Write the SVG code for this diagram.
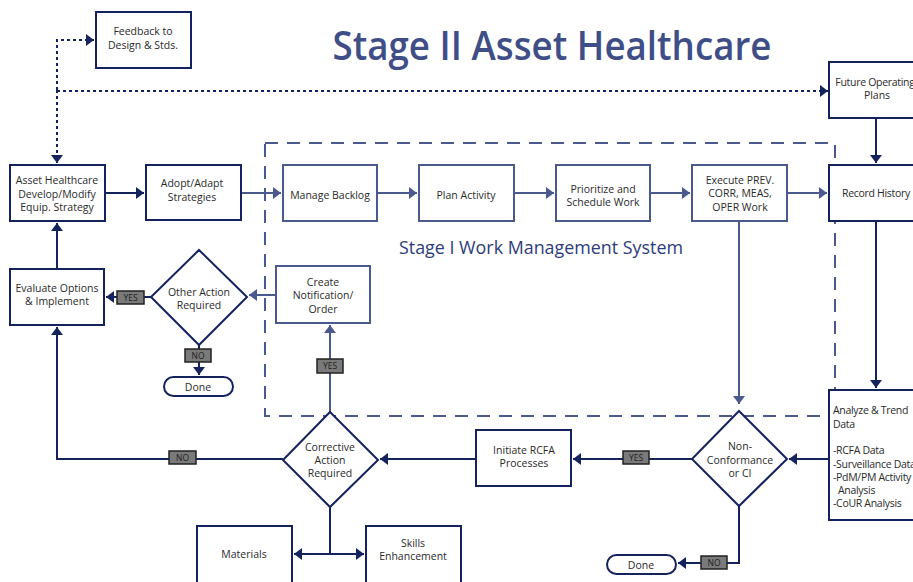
<svg xmlns="http://www.w3.org/2000/svg" width="913" height="582" viewBox="0 0 913 582">
  <style>
    text { font-family: "Open Sans", "Noto Sans", "DejaVu Sans", sans-serif; fill: #2a2a2a; font-size: 10.5px; text-anchor: middle; }
    .title { font-size: 39px; font-weight: 600; fill: #404e87; }
    .sub { font-size: 18.5px; fill: #2d3c7a; }
    .box { fill: #fff; stroke: #14235e; stroke-width: 2; }
    .boxl { fill: #fff; stroke: #4a5a8e; stroke-width: 2; }
    .line { fill: none; stroke: #14235e; stroke-width: 2; }
    .linel { fill: none; stroke: #4a5a8e; stroke-width: 2; }
    .dot { fill: none; stroke: #14235e; stroke-width: 2; stroke-dasharray: 3 3; }
    .frame { fill: none; stroke: #4a5a8e; stroke-width: 2; stroke-dasharray: 13 9; }
    .tag rect { fill: #7a7a7a; stroke: #222; stroke-width: 1.5; }
    .tag text { font-size: 8.5px; fill: #1e1e1e; }
    .left { text-anchor: start; }
    .tight { letter-spacing: -0.3px; }
  </style>
  <defs>
    <marker id="ad" viewBox="0 0 8 12" refX="8" refY="6" markerWidth="8" markerHeight="12" markerUnits="userSpaceOnUse" orient="auto">
      <path d="M0,0 L8,6 L0,12 z" fill="#14235e"/>
    </marker>
    <marker id="al" viewBox="0 0 8 12" refX="8" refY="6" markerWidth="8" markerHeight="12" markerUnits="userSpaceOnUse" orient="auto">
      <path d="M0,0 L8,6 L0,12 z" fill="#4a5a8e"/>
    </marker>
  </defs>

  <rect width="913" height="582" fill="#fff"/>

  <text class="title" x="552" y="60" textLength="439" lengthAdjust="spacingAndGlyphs">Stage II Asset Healthcare</text>

  <!-- Stage I boundary -->
  <g id="stage1">
    <rect class="frame" x="265" y="143" width="570" height="273"/>
    <text class="sub" x="541" y="254" textLength="284" lengthAdjust="spacingAndGlyphs">Stage I Work Management System</text>
  </g>

  <g id="connectors">
    <!-- feedback loops -->
    <path class="dot" d="M57,90 V40 H94" marker-end="url(#ad)"/>
    <path class="dot" d="M57,90 V163" marker-end="url(#ad)"/>
    <path class="dot" d="M57,91 H828" marker-end="url(#ad)"/>
    <!-- main flow -->
    <path class="line" d="M105,193 H144" marker-end="url(#ad)"/>
    <path class="linel" d="M241,193 H281" marker-end="url(#al)"/>
    <path class="linel" d="M377,193 H417" marker-end="url(#al)"/>
    <path class="linel" d="M514,193 H554" marker-end="url(#al)"/>
    <path class="linel" d="M650,193 H690" marker-end="url(#al)"/>
    <path class="linel" d="M787,193 H827" marker-end="url(#al)"/>
    <path class="line" d="M876,118 V163" marker-end="url(#ad)"/>
    <path class="line" d="M876,221 V388" marker-end="url(#ad)"/>
    <path class="linel" d="M739,221 V404" marker-end="url(#al)"/>
    <path class="line" d="M829,459 H789" marker-end="url(#ad)"/>
    <path class="line" d="M692,459 H573" marker-end="url(#ad)"/>
    <path class="line" d="M739,506 V563 H678" marker-end="url(#ad)"/>
    <path class="line" d="M476,459 H380" marker-end="url(#ad)"/>
    <path class="line" d="M283,459 H57 V327" marker-end="url(#ad)"/>
    <path class="linel" d="M330,412 V325" marker-end="url(#al)"/>
    <path class="line" d="M330,507 V554"/>
    <path class="line" d="M330,554 H294" marker-end="url(#ad)"/>
    <path class="line" d="M330,554 H364" marker-end="url(#ad)"/>
    <path class="linel" d="M276,295 H249" marker-end="url(#al)"/>
    <path class="line" d="M151,297 H106" marker-end="url(#ad)"/>
    <path class="line" d="M199,345 V375" marker-end="url(#ad)"/>
    <path class="line" d="M57,269 V223" marker-end="url(#ad)"/>
    <!-- decision labels -->
    <g class="tag"><rect x="117" y="291" width="27" height="13"/><text x="130.5" y="300.5">YES</text></g>
    <g class="tag"><rect x="185" y="349" width="26" height="13"/><text x="198" y="358.5">NO</text></g>
    <g class="tag"><rect x="317" y="359" width="26" height="14"/><text x="330" y="369">YES</text></g>
    <g class="tag"><rect x="169" y="451" width="27" height="13"/><text x="182.5" y="460.5">NO</text></g>
    <g class="tag"><rect x="623" y="451" width="26" height="13"/><text x="636" y="460.5">YES</text></g>
    <g class="tag"><rect x="701" y="556" width="26" height="13"/><text x="714" y="565.5">NO</text></g>
  </g>

  <g id="feedback">
    <rect class="box" x="96" y="12" width="95" height="56"/>
    <text x="143" y="35">Feedback to</text>
    <text x="143" y="49">Design &amp; Stds.</text>
  </g>
  <g id="future-plans">
    <rect class="box" x="829" y="62" width="100" height="56"/>
    <text class="tight" x="875" y="86">Future Operating</text>
    <text x="877" y="99">Plans</text>
  </g>
  <g id="asset-strategy">
    <rect class="box" x="10" y="165" width="95" height="56"/>
    <text x="57" y="184">Asset Healthcare</text>
    <text x="57" y="198">Develop/Modify</text>
    <text x="57" y="211">Equip. Strategy</text>
  </g>
  <g id="adopt">
    <rect class="box" x="146" y="165" width="95" height="55"/>
    <text x="192" y="187">Adopt/Adapt</text>
    <text x="192" y="201">Strategies</text>
  </g>
  <g id="manage-backlog">
    <rect class="boxl" x="283" y="165" width="94" height="56"/>
    <text x="330" y="199">Manage Backlog</text>
  </g>
  <g id="plan-activity">
    <rect class="boxl" x="419" y="165" width="95" height="56"/>
    <text x="466" y="199">Plan Activity</text>
  </g>
  <g id="prioritize">
    <rect class="boxl" x="556" y="165" width="94" height="56"/>
    <text x="603" y="193">Prioritize and</text>
    <text x="603" y="206">Schedule Work</text>
  </g>
  <g id="execute">
    <rect class="boxl" x="692" y="165" width="95" height="56"/>
    <text x="740" y="184">Execute PREV.</text>
    <text x="740" y="197">CORR, MEAS,</text>
    <text x="740" y="211">OPER Work</text>
  </g>
  <g id="record-history">
    <rect class="box" x="829" y="165" width="100" height="56"/>
    <text class="tight" x="876" y="197">Record History</text>
  </g>
  <g id="analyze">
    <rect class="box" x="829" y="390" width="100" height="130"/>
    <g class="tight">
      <text class="left" x="833" y="414">Analyze &amp; Trend</text>
      <text class="left" x="833" y="428">Data</text>
      <text class="left" x="833" y="454">-RCFA Data</text>
      <text class="left" x="833" y="468">-Surveillance Data</text>
      <text class="left" x="833" y="481">-PdM/PM Activity</text>
      <text class="left" x="838" y="494">Analysis</text>
      <text class="left" x="833" y="507">-CoUR Analysis</text>
    </g>
  </g>
  <g id="evaluate">
    <rect class="box" x="10" y="269" width="94" height="56"/>
    <text x="57" y="292">Evaluate Options</text>
    <text x="57" y="305">&amp; Implement</text>
  </g>
  <g id="other-action">
    <polygon class="box" points="199,250 247,297 199,345 151,297"/>
    <text x="199" y="296">Other Action</text>
    <text x="199" y="309">Required</text>
  </g>
  <g id="create-notification">
    <rect class="boxl" x="276" y="266" width="94" height="57"/>
    <text x="323" y="286">Create</text>
    <text x="323" y="299">Notification/</text>
    <text x="323" y="313">Order</text>
  </g>
  <g id="done-1">
    <rect class="box" x="164" y="377" width="69" height="19" rx="9.5"/>
    <text x="198" y="391">Done</text>
  </g>
  <g id="corrective">
    <polygon class="box" points="330,412 378,460 330,507 283,460"/>
    <text x="330" y="451">Corrective</text>
    <text x="330" y="464">Action</text>
    <text x="330" y="477">Required</text>
  </g>
  <g id="initiate-rcfa">
    <rect class="box" x="476" y="430" width="95" height="56"/>
    <text x="524" y="454">Initiate RCFA</text>
    <text x="524" y="467">Processes</text>
  </g>
  <g id="non-conformance">
    <polygon class="box" points="739,411 787,459 739,506 692,459"/>
    <text x="740" y="450">Non-</text>
    <text x="740" y="464">Conformance</text>
    <text x="740" y="477">or CI</text>
  </g>
  <g id="materials">
    <rect class="box" x="197" y="526" width="95" height="66"/>
    <text x="244" y="558">Materials</text>
  </g>
  <g id="skills">
    <rect class="box" x="366" y="526" width="95" height="66"/>
    <text x="413" y="547">Skills</text>
    <text x="413" y="560">Enhancement</text>
  </g>
  <g id="done-2">
    <rect class="box" x="607" y="555" width="69" height="19" rx="9.5"/>
    <text x="641" y="569">Done</text>
  </g>
</svg>
